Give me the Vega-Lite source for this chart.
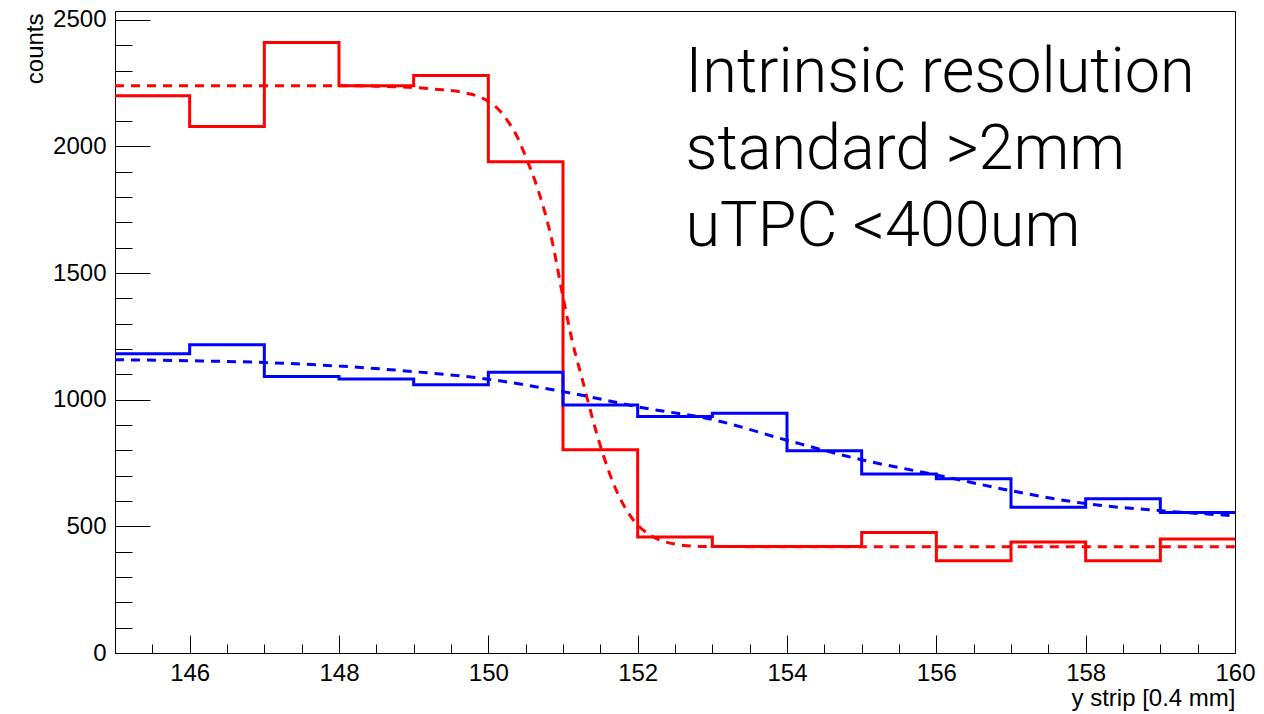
{
  "$schema": "https://vega.github.io/schema/vega-lite/v6.json",
  "width": 1120,
  "height": 642,
  "autosize": "none",
  "padding": {"left": 115, "top": 11, "right": 29, "bottom": 61},
  "background": "white",
  "config": {
    "view": {"stroke": "#000000", "strokeWidth": 1},
    "font": "Liberation Sans"
  },
  "datasets": {
    "redHist": [
      {"strip": 145, "counts": 2200}, {"strip": 146, "counts": 2079}, {"strip": 147, "counts": 2411},
      {"strip": 148, "counts": 2240}, {"strip": 149, "counts": 2280}, {"strip": 150, "counts": 1940},
      {"strip": 151, "counts": 803}, {"strip": 152, "counts": 458}, {"strip": 153, "counts": 421},
      {"strip": 154, "counts": 421}, {"strip": 155, "counts": 476}, {"strip": 156, "counts": 364},
      {"strip": 157, "counts": 438}, {"strip": 158, "counts": 364}, {"strip": 159, "counts": 450},
      {"strip": 160, "counts": 450}
    ],
    "blueHist": [
      {"strip": 145, "counts": 1182}, {"strip": 146, "counts": 1217}, {"strip": 147, "counts": 1092},
      {"strip": 148, "counts": 1082}, {"strip": 149, "counts": 1059}, {"strip": 150, "counts": 1109},
      {"strip": 151, "counts": 979}, {"strip": 152, "counts": 934}, {"strip": 153, "counts": 947},
      {"strip": 154, "counts": 799}, {"strip": 155, "counts": 707}, {"strip": 156, "counts": 688},
      {"strip": 157, "counts": 576}, {"strip": 158, "counts": 609}, {"strip": 159, "counts": 555},
      {"strip": 160, "counts": 555}
    ],
    "redFit": [
      {"strip": 145, "counts": 2240}, {"strip": 146, "counts": 2240}, {"strip": 147, "counts": 2240},
      {"strip": 148, "counts": 2240}, {"strip": 148.5, "counts": 2238}, {"strip": 149, "counts": 2233},
      {"strip": 149.3, "counts": 2226}, {"strip": 149.63, "counts": 2215}, {"strip": 150, "counts": 2178},
      {"strip": 150.14, "counts": 2145}, {"strip": 150.28, "counts": 2092}, {"strip": 150.4, "counts": 2030},
      {"strip": 150.5, "counts": 1960}, {"strip": 150.68, "counts": 1816}, {"strip": 150.86, "counts": 1619},
      {"strip": 150.99, "counts": 1421}, {"strip": 151.13, "counts": 1224}, {"strip": 151.26, "counts": 1079},
      {"strip": 151.4, "counts": 921}, {"strip": 151.53, "counts": 790}, {"strip": 151.71, "counts": 645},
      {"strip": 151.94, "counts": 526}, {"strip": 152.2, "counts": 460}, {"strip": 152.5, "counts": 430},
      {"strip": 152.82, "counts": 421}, {"strip": 153.5, "counts": 420}, {"strip": 160, "counts": 420}
    ],
    "blueFit": [
      {"strip": 145, "counts": 1158}, {"strip": 146, "counts": 1154}, {"strip": 147, "counts": 1147},
      {"strip": 148, "counts": 1133}, {"strip": 149, "counts": 1111}, {"strip": 150, "counts": 1081},
      {"strip": 151, "counts": 1032}, {"strip": 151.5, "counts": 1003}, {"strip": 152, "counts": 972},
      {"strip": 153, "counts": 922}, {"strip": 154, "counts": 840}, {"strip": 155, "counts": 763},
      {"strip": 156, "counts": 703}, {"strip": 157, "counts": 641}, {"strip": 158, "counts": 590},
      {"strip": 159, "counts": 562}, {"strip": 160, "counts": 542}
    ],
    "note": [
      {"label": "Intrinsic resolution\nstandard >2mm\nuTPC <400um"}
    ]
  },
  "resolve": {"axis": {"x": "independent", "y": "independent"}},
  "layer": [
    {
      "data": {"name": "redHist"},
      "mark": {"type": "line", "interpolate": "step-after", "color": "#ff0000", "strokeWidth": 3, "clip": true},
      "encoding": {
        "x": {
          "field": "strip", "type": "quantitative",
          "scale": {"domain": [145, 160], "nice": false, "zero": false},
          "axis": {
            "orient": "bottom",
            "values": [146, 148, 150, 152, 154, 156, 158, 160],
            "format": "d",
            "tickSize": -18, "labelPadding": 26, "tickColor": "#000000", "tickWidth": 1,
            "domainColor": "#000000", "domainWidth": 1, "grid": false,
            "labelFont": "Liberation Sans", "labelFontSize": 24, "labelColor": "#000000",
            "labelFlush": false, "labelOverlap": false,
            "title": "y strip [0.4 mm]", "titleFont": "Liberation Sans", "titleFontSize": 24,
            "titleFontWeight": "normal", "titleColor": "#000000",
            "titleX": 1120, "titleY": 52, "titleAlign": "right", "titleBaseline": "alphabetic", "titleAngle": 0
          }
        },
        "y": {
          "field": "counts", "type": "quantitative",
          "scale": {"domain": [0, 2535], "nice": false, "zero": true},
          "axis": {
            "orient": "left",
            "values": [0, 500, 1000, 1500, 2000, 2500],
            "format": "d",
            "tickSize": -35, "labelPadding": 44, "tickColor": "#000000", "tickWidth": 1,
            "domainColor": "#000000", "domainWidth": 1, "grid": false,
            "labelFont": "Liberation Sans", "labelFontSize": 24, "labelColor": "#000000",
            "labelFlush": false, "labelOverlap": false, "labelAlign": "right", "labelBaseline": "middle",
            "title": "counts", "titleFont": "Liberation Sans", "titleFontSize": 24,
            "titleFontWeight": "normal", "titleColor": "#000000",
            "titleAngle": -90, "titleX": -73, "titleY": 2, "titleAlign": "right", "titleBaseline": "alphabetic"
          }
        }
      }
    },
    {
      "data": {"name": "blueHist"},
      "mark": {"type": "line", "interpolate": "step-after", "color": "#0000ff", "strokeWidth": 3, "clip": true},
      "encoding": {
        "x": {
          "field": "strip", "type": "quantitative",
          "axis": {
            "orient": "bottom",
            "values": [145.5, 146.5, 147, 147.5, 148.5, 149, 149.5, 150.5, 151, 151.5, 152.5, 153, 153.5, 154.5, 155, 155.5, 156.5, 157, 157.5, 158.5, 159, 159.5],
            "tickSize": -9, "tickColor": "#000000", "tickWidth": 1,
            "labels": false, "domain": false, "grid": false, "title": null
          }
        },
        "y": {
          "field": "counts", "type": "quantitative",
          "axis": {
            "orient": "left",
            "values": [100, 200, 300, 400, 600, 700, 800, 900, 1100, 1200, 1300, 1400, 1600, 1700, 1800, 1900, 2100, 2200, 2300, 2400],
            "tickSize": -17, "tickColor": "#000000", "tickWidth": 1,
            "labels": false, "domain": false, "grid": false, "title": null
          }
        }
      }
    },
    {
      "data": {"name": "redFit"},
      "mark": {"type": "line", "interpolate": "monotone", "color": "#ff0000", "strokeWidth": 3, "strokeDash": [9, 7], "clip": true},
      "encoding": {
        "x": {"field": "strip", "type": "quantitative", "axis": null},
        "y": {"field": "counts", "type": "quantitative", "axis": null}
      }
    },
    {
      "data": {"name": "blueFit"},
      "mark": {"type": "line", "interpolate": "monotone", "color": "#0000ff", "strokeWidth": 3, "strokeDash": [9, 7], "clip": true},
      "encoding": {
        "x": {"field": "strip", "type": "quantitative", "axis": null},
        "y": {"field": "counts", "type": "quantitative", "axis": null}
      }
    },
    {
      "data": {"name": "note"},
      "mark": {"type": "text", "align": "left", "baseline": "alphabetic", "lineBreak": "\n", "lineHeight": 77, "font": "Roboto", "fontWeight": 300, "fontSize": 63, "color": "#000000"},
      "encoding": {
        "x": {"datum": 152.64, "type": "quantitative", "axis": null},
        "y": {"datum": 2216, "type": "quantitative", "axis": null},
        "text": {"field": "label"}
      }
    }
  ]
}
